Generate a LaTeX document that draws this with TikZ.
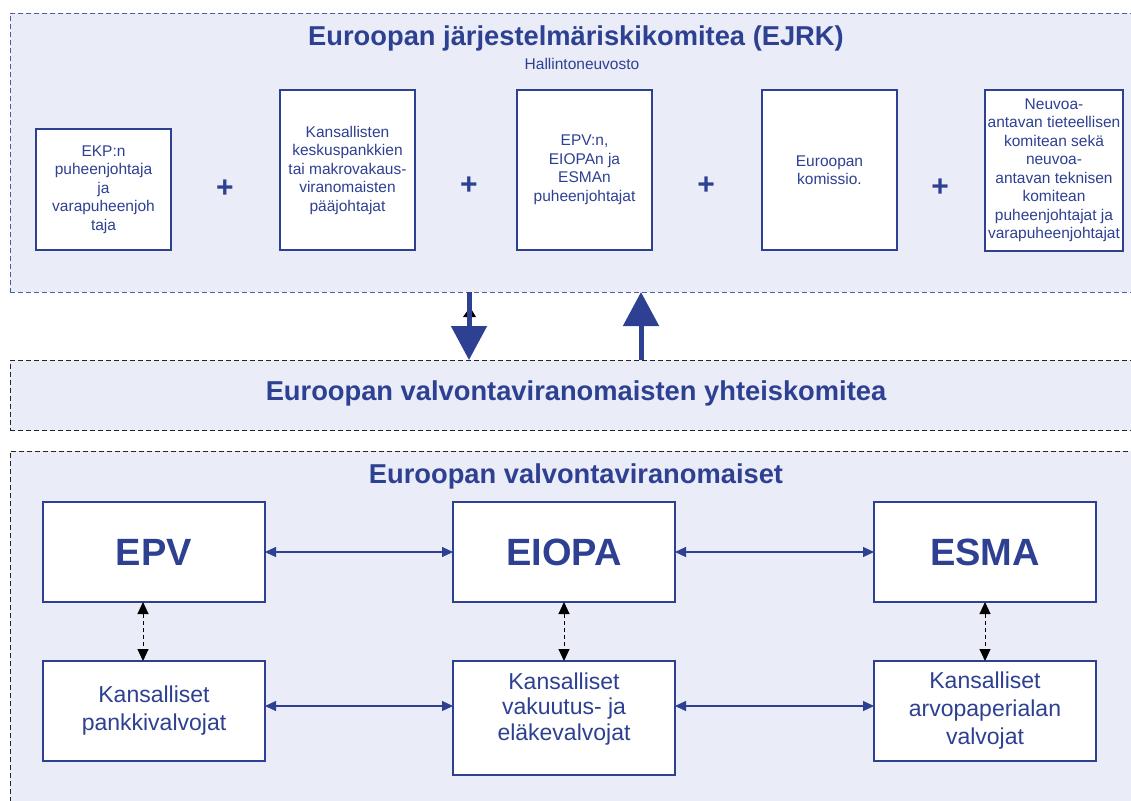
\documentclass[tikz,border=0pt]{standalone}
\usepackage{fontspec}
\setmainfont{Liberation Sans}
\usetikzlibrary{arrows.meta}

\definecolor{esrbblue}{RGB}{46,64,146}
\definecolor{esrbfill}{RGB}{234,236,247}

\begin{document}
\begin{tikzpicture}[x=1pt,y=-1pt,
    container/.style={draw=#1, fill=esrbfill, line width=0.9pt, dash pattern=on 5pt off 3pt,
        anchor=north west, inner sep=0pt, outer sep=0pt},
    title/.style={text=esrbblue, font=\bfseries\fontsize{27.3}{32}\selectfont, inner sep=0pt},
    member/.style={draw=esrbblue, fill=white, line width=1.2pt, text=esrbblue, align=center,
        inner sep=0pt, outer sep=0pt, minimum width=135pt, minimum height=160pt,
        font=\fontsize{15.5}{18.5}\selectfont},
    agency/.style={draw=esrbblue, fill=white, line width=1.2pt, text=esrbblue,
        inner sep=0pt, outer sep=0pt, minimum width=222pt, minimum height=100pt,
        font=\bfseries\fontsize{38}{44}\selectfont},
    national/.style={agency, align=center, font=\fontsize{23}{28}\selectfont},
    plussign/.style={text=esrbblue, font=\bfseries\fontsize{30}{30}\selectfont, inner sep=0pt},
    blockarrow/.style={draw=esrbblue, line width=5pt, -{Triangle[width=35pt,length=34pt]}},
    link/.style={draw=esrbblue, line width=1.2pt, {Triangle[width=10pt,length=11pt]}-{Triangle[width=10pt,length=11pt]}},
    dlink/.style={draw=black, line width=1pt, dash pattern=on 4pt off 3pt,
        {Triangle[width=11pt,length=12pt]}-{Triangle[width=11pt,length=12pt]}}]

    \useasboundingbox (0,0) rectangle (1131,800);

    %Containers
    \node[container=esrbblue!85, minimum width=1135pt, minimum height=279pt] (ejrk) at (10,13) {};
    \node[container=black!85, minimum width=1135pt, minimum height=70.5pt] (yk) at (10,360) {};
    \node[container=black!85, minimum width=1135pt, minimum height=360pt] (evv) at (10,451) {};

    \node[title] (ejrktitle) at (576,38) {Euroopan järjestelmäriskikomitea (EJRK)};
    \node[text=esrbblue, font=\fontsize{15.5}{18}\selectfont, inner sep=0pt] (board) at (582,64) {Hallintoneuvosto};
    \node[title] (yktitle) at (576,393) {Euroopan valvontaviranomaisten yhteiskomitea};
    \node[title] (evvtitle) at (576,476) {Euroopan valvontaviranomaiset};

    %Members of the board
    \node[member, minimum height=121pt] (ekp) at (103.5,189.5) {EKP:n\\puheenjohtaja\\ja\\varapuheenjoh\\taja};
    \node[member] (kkp) at (347.5,170) {Kansallisten\\keskuspankkien\\tai makrovakaus-\\viranomaisten\\pääjohtajat};
    \node[member] (epvn) at (584.5,170) {EPV:n,\\EIOPAn ja\\ESMAn\\puheenjohtajat};
    \node[member] (ek) at (829.5,170) {Euroopan\\komissio.};
    \node[member, minimum width=138pt, minimum height=161pt] (neuv) at (1054,170.5) {Neuvoa-\\antavan tieteellisen\\komitean sekä\\neuvoa-\\antavan teknisen\\komitean\\puheenjohtajat ja\\varapuheenjohtajat};

    \foreach \x/\y in {225/189, 469/186, 706/186, 940/188}
    \node[plussign] at (\x,\y) {+};

    %Arrows between the committees
    \coordinate (dn) at (469,0);
    \coordinate (up) at (641,0);
    \fill[black] (463,317) -- (470,307) -- (476,317) -- cycle;
    \draw[blockarrow] (ejrk.south -| dn) -- (yk.north -| dn);
    \draw[blockarrow] (yk.north -| up) -- (ejrk.south -| up);

    %Authorities and national supervisors
    \node[agency] (epv) at (154,552) {EPV};
    \node[agency] (eiopa) at (564,552) {EIOPA};
    \node[agency] (esma) at (985,552) {ESMA};

    \node[national] (kpv) at (154,711) {Kansalliset\\pankkivalvojat};
    \node[national, minimum height=114pt] (kvev) at (564,718) {};
    \node[text=esrbblue, align=center, font=\fontsize{23}{25.5}\selectfont, inner sep=0pt] (kvevtext) at (564,709) {Kansalliset\\vakuutus- ja\\eläkevalvojat};
    \node[national] (kav) at (985,711) {Kansalliset\\arvopaperialan\\valvojat};

    \draw[link] (epv.east) -- (eiopa.west);
    \draw[link] (eiopa.east) -- (esma.west);

    \coordinate (lo) at (0,706);
    \draw[link] (kpv.east |- lo) -- (kvev.west |- lo);
    \draw[link] (kvev.east |- lo) -- (kav.west |- lo);

    \coordinate (dl) at (143,0);
    \draw[dlink] (epv.south -| dl) -- (kpv.north -| dl);
    \draw[dlink] (eiopa.south) -- (kvev.north);
    \draw[dlink] (esma.south) -- (kav.north);

\end{tikzpicture}
\end{document}
